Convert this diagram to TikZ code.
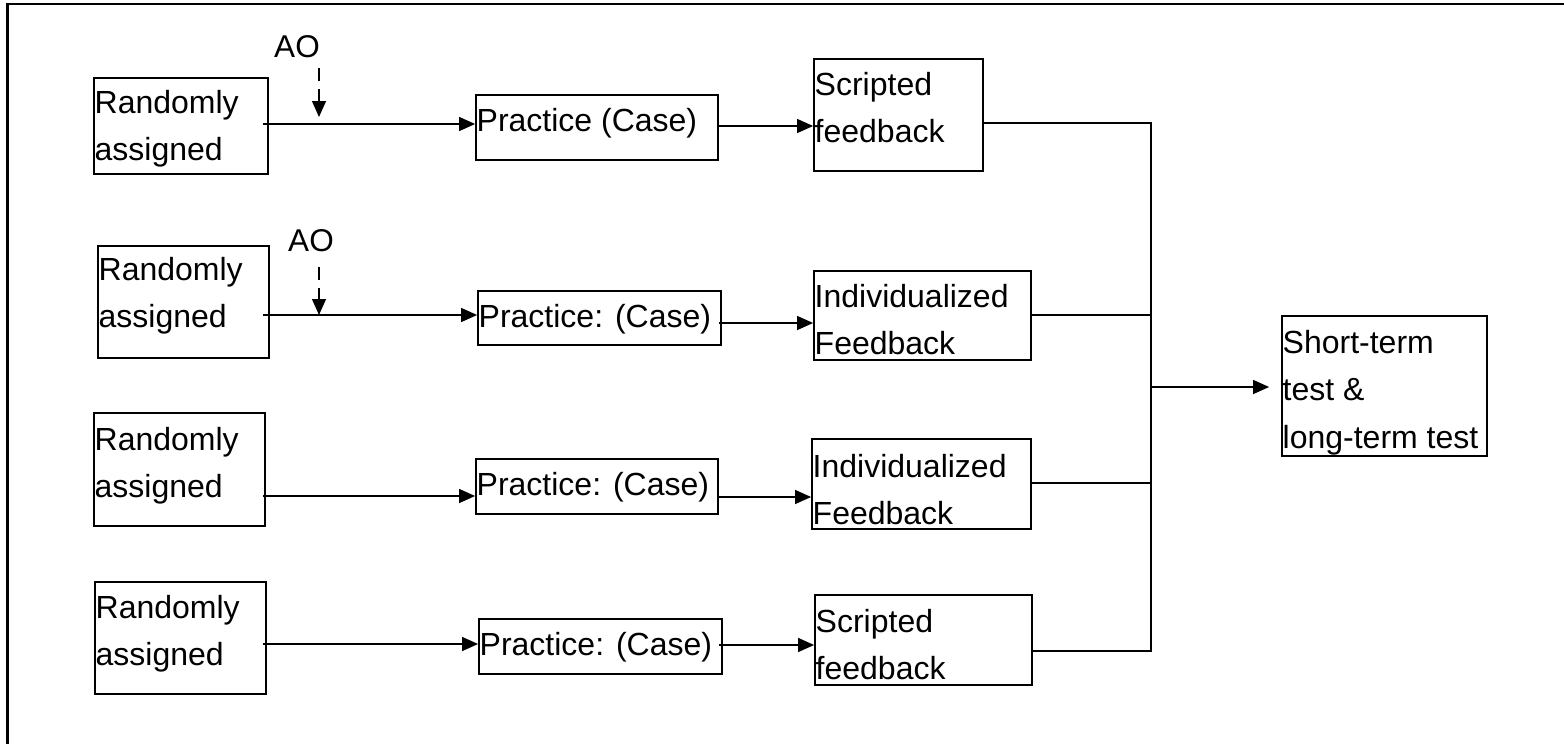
\documentclass[tikz,border=0pt]{standalone}
\usepackage{fontspec}
\setmainfont{Liberation Sans}
\usetikzlibrary{arrows.meta}
\newcommand\mybox[7]{%
  \node[boxn, minimum width={(#4-#2)*1pt}, minimum height={(#5-#3)*1pt}] (#1) at ({(#2+#4)/2},{(#3+#5)/2}) {};
  \node[lbl] (#1l) at (#2+0.5,#6-23) {#7};
}
\begin{document}
\begin{tikzpicture}[x=1pt,y=-1pt,
  boxn/.style={draw, line width=1.8pt, inner sep=0pt},
  lbl/.style={inner sep=0pt, anchor=north west, align=left, font=\fontsize{32}{47.5}\selectfont},
  aotxt/.style={inner sep=0pt, font=\fontsize{31.5}{37}\selectfont},
  conn/.style={line width=1.3pt},
  arr/.style={conn, -{Triangle[length=16pt,width=14pt]}},
  darr/.style={arr, dash pattern=on 13pt off 8pt},
  frame/.style={line width=2.4pt}]
\useasboundingbox (0,0) rectangle (1564,744);
% frame (top and left edges)
\draw[frame] (7.5,744) -- (7.5,4) -- (1564,4);

% column 1
\mybox{r1}{94}{78}{268}{174}{113}{Randomly\\assigned}
\mybox{r2}{98}{246}{269}{358}{280}{Randomly\\assigned}
\mybox{r3}{94}{413}{265}{526}{450}{Randomly\\assigned}
\mybox{r4}{95}{582}{266}{694}{618}{Randomly\\assigned}
% column 2
\mybox{p1}{476}{95}{718}{160}{131}{Practice (Case)}
\mybox{p2}{478}{291}{721}{345}{327}{Practice: (Case)}
\mybox{p3}{476}{459}{718}{514}{495}{Practice: (Case)}
\mybox{p4}{479}{619}{722}{674}{655}{Practice: (Case)}
% column 3
\mybox{s1}{814}{59}{983}{171}{95}{Scripted\\feedback}
\mybox{i2}{814}{271}{1031}{360}{307}{Individualized\\Feedback}
\mybox{i3}{812}{439}{1031}{529}{477}{Individualized\\Feedback}
\mybox{s4}{815}{595}{1032}{685}{632}{Scripted\\feedback}
% final
\mybox{f}{1282}{316}{1487}{456}{353}{Short-term\\test \&\\long-term test}

% AO labels
\node[aotxt] (ao1) at (297,47) {AO};
\node[aotxt] (ao2) at (311,241) {AO};
\coordinate (ao1s) at (319,68);
\coordinate (ao1e) at (319,117);
\coordinate (ao2s) at (319,267);
\coordinate (ao2e) at (319,315);
\draw[darr] (ao1s) -- (ao1e);
\draw[darr] (ao2s) -- (ao2e);

% row arrows
\draw[arr] (r1.east |- 0,124) ++(-6,0) -- (p1.west |- 0,124);
\draw[arr] (r2.east |- 0,315) ++(-7,0) -- (p2.west |- 0,315);
\draw[arr] (r3.east |- 0,496) ++(-3,0) -- (p3.west |- 0,496);
\draw[arr] (r4.east |- 0,644) ++(-4,0) -- (p4.west |- 0,644);

\draw[arr] (p1.east |- 0,126) -- (s1.west |- 0,126);
\draw[arr] (p2.east |- 0,323) ++(-3,0) -- (i2.west |- 0,323);
\draw[arr] (p3.east |- 0,497) -- (i3.west |- 0,497);
\draw[arr] (p4.east |- 0,645) ++(-4,0) -- (s4.west |- 0,645);

% collector bus
\coordinate (bt) at (1151,123);
\coordinate (bb) at (1151,651);
\coordinate (bm) at (1151,387);
\draw[conn] (s1.east |- bt) -- (bt) -- (bb) -- (s4.east |- bb);
\draw[conn] (i2.east |- 0,315) -- (bt |- 0,315);
\draw[conn] (i3.east |- 0,483) -- (bt |- 0,483);
\draw[arr] (bm) -- ([xshift=-12pt]f.west |- bm);
\end{tikzpicture}
\end{document}
